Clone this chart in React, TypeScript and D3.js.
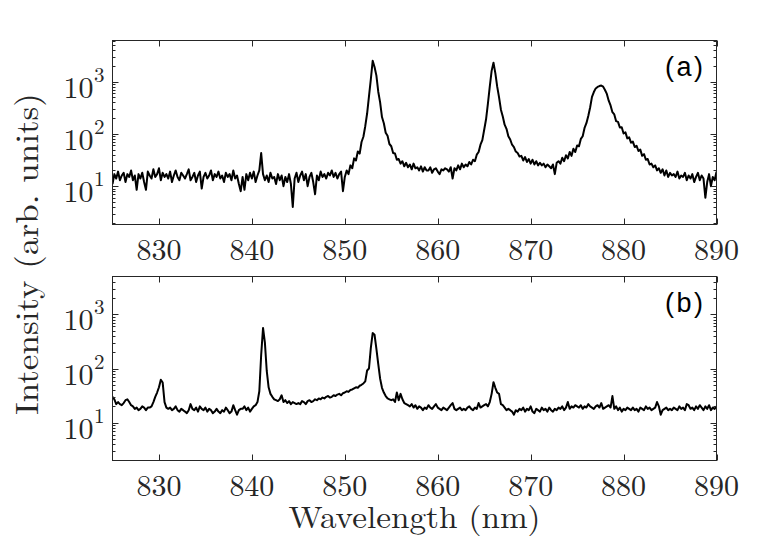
import React from 'react';
import * as d3 from 'd3';

// Spectra sampled on a uniform wavelength grid (nm)
const WAVE_START = 825;
const WAVE_STEP = 0.2;

// (a) intensity, arb. units
const intensityA = [
  11, 17, 14, 19, 13, 16, 18, 12, 17, 15,
  20, 13, 16, 8.5, 17, 14, 18, 12, 8.5, 19,
  16, 14, 21, 15, 17, 22, 13, 18, 15, 17,
  14, 19, 12, 16, 20, 15, 13, 18, 16, 14,
  17, 21, 13, 15, 18, 12, 16, 19, 9, 15,
  18, 14, 16, 20, 13, 17, 15, 19, 14, 16,
  12, 18, 15, 17, 13, 20, 14, 16, 11, 8,
  15, 8.5, 17, 13, 18, 14, 19, 12, 16, 20,
  43, 17, 13, 16, 12, 18, 14, 15, 11, 17,
  13, 16, 10, 15, 12, 17, 11, 4, 14, 18,
  12, 16, 19, 13, 17, 10, 15, 18, 12, 7,
  16, 13, 19, 15, 17, 14, 18, 16, 20, 15,
  18, 14, 17, 19, 8, 15, 20, 17, 25, 22,
  34, 31, 46, 42, 70, 88, 140, 245, 520, 1100,
  2500, 1900, 1300, 640, 400, 210, 160, 105, 92, 64,
  58, 43, 42, 32, 33, 27, 30, 24, 28, 23,
  26, 21, 27, 22, 23, 20, 24, 19, 23, 20,
  20, 23, 18, 21, 22, 19, 17, 21, 20, 22,
  21, 19, 23, 14, 22, 20, 25, 21, 27, 23,
  26, 24, 29, 26, 32, 30, 40, 45, 62, 76,
  120, 190, 380, 800, 1600, 2300, 1450, 800, 500, 290,
  215, 150, 125, 90, 78, 62, 56, 46, 43, 37,
  38, 31, 36, 29, 33, 27, 32, 26, 30, 25,
  28, 25, 27, 23, 26, 24, 22, 26, 17, 28,
  30, 27, 35, 30, 39, 34, 45, 38, 52, 45,
  60, 58, 80, 90, 130, 160, 220, 320, 510, 630,
  740, 790, 820, 840, 800, 690, 580, 430, 350, 260,
  235, 175, 170, 132, 134, 102, 107, 82, 86, 68,
  71, 56, 59, 47, 50, 38, 41, 32, 33, 26,
  27, 23, 25, 20, 22, 18, 21, 16, 20, 15,
  18, 16, 17, 15, 19, 14, 16, 15, 18, 13,
  16, 14, 17, 12, 15, 18, 13, 16, 14, 6,
  12, 17, 10, 15, 13, 19,
];

// (b) intensity, arb. units
const intensityB = [
  30, 27, 22, 24, 22, 21, 23, 26, 27, 24,
  21, 20, 18, 19, 17, 18, 20, 19, 17, 19,
  19, 20, 24, 30, 36, 45, 62, 55, 24, 19,
  18, 19, 17, 18, 20, 17, 16, 18, 17, 16,
  15, 17, 22, 18, 17, 19, 16, 20, 18, 17,
  19, 16, 18, 17, 15, 16, 18, 16, 15, 17,
  16, 19, 17, 15, 16, 21, 17, 14, 17, 18,
  18, 20, 17, 19, 16, 18, 20, 21, 24, 38,
  180, 560, 300, 90, 45, 34, 30, 27, 26, 25,
  27, 32, 24, 26, 23, 25, 22, 24, 23, 22,
  23, 22, 25, 24, 22, 25, 26, 24, 25, 27,
  26, 28, 27, 29, 28, 30, 31, 29, 30, 32,
  31, 33, 34, 32, 35, 36, 38, 37, 40, 41,
  43, 45, 44, 48, 50, 53, 58, 92, 100, 240,
  450, 420, 230, 120, 65, 44, 36, 31, 28, 27,
  26, 27, 24, 36, 26, 34, 27, 23, 22, 21,
  20, 22, 19, 21, 18, 20, 19, 17, 19, 18,
  21, 19, 18, 20, 22, 19, 18, 17, 19, 18,
  17, 19, 21, 23, 18, 17, 18, 19, 17, 18,
  17, 19, 20, 18, 17, 19, 18, 23, 19, 20,
  21, 22, 20, 24, 34, 56, 44, 36, 34, 22,
  21, 19, 17, 18, 17, 16, 14, 17, 16, 18,
  17, 19, 16, 18, 17, 20, 16, 15, 18, 17,
  16, 19, 17, 18, 16, 19, 17, 16, 18, 17,
  19, 18, 20, 17, 19, 24, 18, 20, 19, 21,
  20, 19, 21, 18, 20, 19, 22, 20, 19, 18,
  20, 21, 19, 23, 18, 19, 20, 21, 19, 31,
  18, 20, 17, 19, 16, 18, 17, 19, 18, 17,
  19, 17, 18, 16, 19, 18, 17, 20, 18, 19,
  17, 18, 19, 24, 20, 14, 17, 18, 19, 17,
  18, 17, 19, 18, 17, 20, 18, 19, 17, 22,
  21, 18, 19, 17, 20, 18, 21, 19, 17, 20,
  18, 21, 17, 19, 18, 20,
];

const xDomain: [number, number] = [825, 890];
const xTicks = [830, 840, 850, 860, 870, 880, 890];
const yExponents = [1, 2, 3];
const yDomainA: [number, number] = [1.85, 6100];
const yDomainB: [number, number] = [2, 5000];
const panelLabels = ['(a)', '(b)'];
const xTitle = 'Wavelength (nm)';
const yTitle = 'Intensity (arb. units)';

const W = 780;
const H = 540;
const LEFT = 112.5;
const RIGHT = 716.5;
const AXIS_COLOR = '#262626';
const SERIF = "'Latin Modern Roman', 'Liberation Serif', serif";
const SANS = "'Liberation Sans', Arial, sans-serif";
const MAJOR = 6;
const MINOR = 3;

type PanelProps = {
  values: number[];
  top: number;
  bottom: number;
  yDomain: [number, number];
  label: string;
  clipId: string;
};

function Panel({ values, top, bottom, yDomain, label, clipId }: PanelProps) {
  const x = d3.scaleLinear().domain(xDomain).range([LEFT, RIGHT]);
  const y = d3.scaleLog().domain(yDomain).range([bottom, top]);
  const pts: [number, number][] = values.map((v, i) => [WAVE_START + i * WAVE_STEP, v]);
  const line = d3
    .line<[number, number]>()
    .x((d) => x(d[0]))
    .y((d) => y(d[1]));

  const minor: number[] = [];
  for (let k = 0; k <= 3; k++) {
    for (let m = 2; m <= 9; m++) {
      const v = m * Math.pow(10, k);
      if (v > yDomain[0] && v < yDomain[1]) minor.push(v);
    }
  }
  const snap = (v: number) => Math.round(v) + 0.5;

  return (
    <g>
      <defs>
        <clipPath id={clipId}>
          <rect x={LEFT} y={top} width={RIGHT - LEFT} height={bottom - top} />
        </clipPath>
      </defs>
      <path
        d={line(pts) || ''}
        fill="none"
        stroke="#000"
        strokeWidth={2}
        strokeLinejoin="round"
        clipPath={`url(#${clipId})`}
      />
      <rect
        x={LEFT}
        y={top}
        width={RIGHT - LEFT}
        height={bottom - top}
        fill="none"
        stroke={AXIS_COLOR}
        strokeWidth={1}
      />
      {xTicks.map((t) => (
        <g key={`xt${t}`}>
          <line x1={snap(x(t))} x2={snap(x(t))} y1={bottom} y2={bottom - MAJOR} stroke={AXIS_COLOR} />
          <line x1={snap(x(t))} x2={snap(x(t))} y1={top} y2={top + MAJOR} stroke={AXIS_COLOR} />
          <text
            x={x(t)}
            y={bottom + 35}
            textAnchor="middle"
            style={{ fontFamily: SERIF }}
            fontSize={30}
            fill={AXIS_COLOR}
          >
            {t}
          </text>
        </g>
      ))}
      {minor.map((v) => (
        <g key={`mn${v}`}>
          <line x1={LEFT} x2={LEFT + MINOR} y1={snap(y(v))} y2={snap(y(v))} stroke={AXIS_COLOR} />
          <line x1={RIGHT} x2={RIGHT - MINOR} y1={snap(y(v))} y2={snap(y(v))} stroke={AXIS_COLOR} />
        </g>
      ))}
      {yExponents.map((e) => {
        const yy = y(Math.pow(10, e));
        return (
          <g key={`yt${e}`}>
            <line x1={LEFT} x2={LEFT + MAJOR} y1={snap(yy)} y2={snap(yy)} stroke={AXIS_COLOR} />
            <line x1={RIGHT} x2={RIGHT - MAJOR} y1={snap(yy)} y2={snap(yy)} stroke={AXIS_COLOR} />
            <text
              x={93.5}
              y={yy + 16}
              textAnchor="end"
              style={{ fontFamily: SERIF }}
              fontSize={30}
              fill={AXIS_COLOR}
            >
              10
            </text>
            <text
              x={94}
              y={yy}
              textAnchor="start"
              style={{ fontFamily: SERIF }}
              fontSize={21}
              fill={AXIS_COLOR}
            >
              {e}
            </text>
          </g>
        );
      })}
      <text
        x={665}
        y={top + 35}
        style={{ fontFamily: SANS }}
        fontSize={27}
        fill="#000"
        textLength={38}
        lengthAdjust="spacing"
      >
        {label}
      </text>
    </g>
  );
}

export default function App() {
  return (
    <svg
      width={W}
      height={H}
      viewBox={`0 0 ${W} ${H}`}
      style={{ position: 'absolute', left: 0, top: 0, background: '#fff' }}
    >
      <rect x={0} y={0} width={W} height={H} fill="#fff" />
      <Panel values={intensityA} top={40.5} bottom={224.5} yDomain={yDomainA} label={panelLabels[0]} clipId="clipA" />
      <Panel values={intensityB} top={276.5} bottom={460.5} yDomain={yDomainB} label={panelLabels[1]} clipId="clipB" />
      <text
        x={(LEFT + RIGHT) / 2}
        y={528}
        textAnchor="middle"
        style={{ fontFamily: SERIF }}
        fontSize={31}
        fill={AXIS_COLOR}
        textLength={252}
        lengthAdjust="spacingAndGlyphs"
      >
        {xTitle}
      </text>
      <text
        transform="translate(38,254) rotate(-90)"
        textAnchor="middle"
        style={{ fontFamily: SERIF }}
        fontSize={32}
        fill={AXIS_COLOR}
        textLength={322}
        lengthAdjust="spacingAndGlyphs"
      >
        {yTitle}
      </text>
    </svg>
  );
}
